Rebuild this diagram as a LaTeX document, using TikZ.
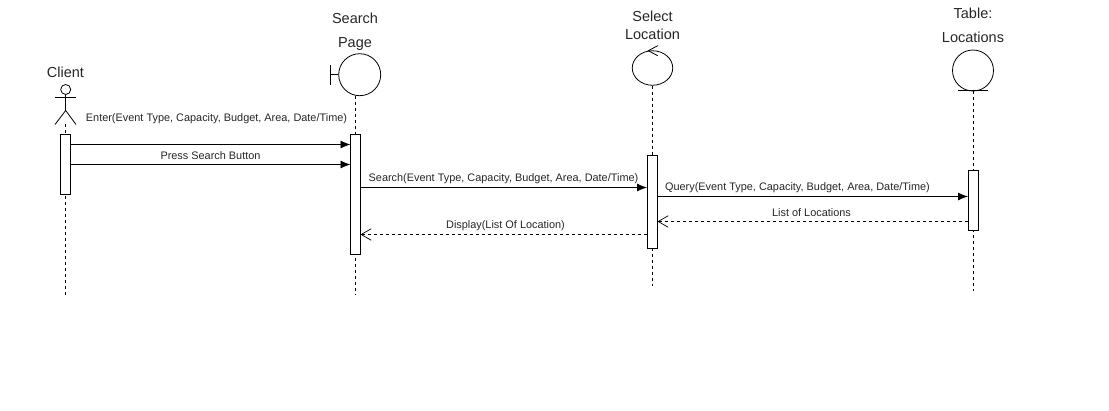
\documentclass[tikz,border=0pt]{standalone}
\usepackage{fontspec}
\setmainfont{Liberation Sans}
\usetikzlibrary{arrows.meta,shapes.geometric}
\tikzset{
  lifeline/.style={dash pattern=on 3pt off 3pt, line width=0.8pt},
  actbox/.style={draw, fill=white, minimum width=10pt, inner sep=0pt, line width=0.8pt},
  umlcircle/.style={circle, draw, inner sep=0pt, line width=0.8pt},
  callmsg/.style={-{Latex[length=10pt,width=8pt]}, line width=0.8pt},
  backmsg/.style={-{Straight Barb[length=10pt,width=11pt,angle'=60]}, dash pattern=on 3pt off 3pt, line width=0.7pt},
  msglabel/.style={font=\fontsize{10.9}{12}\selectfont, inner sep=0pt, text=black!85},
  headlabel/.style={font=\fontsize{14.5}{24}\selectfont, inner sep=0pt, align=center, text=black!85},
}
\begin{document}
\begin{tikzpicture}[x=1pt, y=-1pt, line width=0.8pt]
\useasboundingbox (0,0) rectangle (1109,410);
% headers
\node[headlabel] (tclient) at (65.5,72){Client};
\node[headlabel] (tsearch) at (355,32){Search\\Page};
\node[headlabel, font=\fontsize{14.5}{18}\selectfont] (tselect) at (652.5,25){Select\\Location};
\node[headlabel] (ttable) at (973,25){Table:\\Locations};
% actor
\node[umlcircle, minimum size=10pt] (head) at (65.7,89.5){};
\coordinate (armL) at (55,97.5);
\coordinate (armR) at (76,97.5);
\coordinate (hip) at (65.7,110.5);
\coordinate (legL) at (55,124.5);
\coordinate (legR) at (76,124.5);
\draw[](head) -- (hip);
\draw[](armL) -- (armR);
\draw[](hip) -- (legL);
\draw[](hip) -- (legR);
% boundary
\node[umlcircle, minimum size=42pt] (search) at (359.7,74.7){};
\coordinate (barT) at (330.3,64.5);
\coordinate (barB) at (330.3,84.5);
\coordinate (barM) at (330.3,74.5);
\draw[](barT) -- (barB);
\draw[](barM) -- (search);
% control
\node[ellipse, draw, inner sep=0pt, minimum width=40.5pt, minimum height=34.5pt] (select) at (652.5,68){};
\coordinate (chevT) at (657.7,45.7);
\coordinate (chevM) at (648.3,50.7);
\coordinate (chevB) at (657.7,55.7);
\draw[](chevT) -- (chevM) -- (chevB);
% entity
\node[umlcircle, minimum size=41pt] (table) at (973,70.5){};
\coordinate (baseL) at (958,90.5);
\coordinate (baseR) at (988,90.5);
\draw[](baseL) -- (baseR);
% lifelines
\coordinate (endclient) at (65.5,295);
\coordinate (endsearch) at (355,295);
\coordinate (endselect) at (652.5,286);
\coordinate (endtable) at (973,291);
\coordinate (topclient) at (65.5,124);
\coordinate (topsearch) at (355,96);
\coordinate (topselect) at (652.5,85.5);
\coordinate (toptable) at (973,91);
\draw[lifeline](topclient) -- (endclient);
\draw[lifeline](topsearch) -- (endsearch);
\draw[lifeline](topselect) -- (endselect);
\draw[lifeline](toptable) -- (endtable);
% activations
\node[actbox, minimum height=59.5pt] (aclient) at (65,164.25){};
\node[actbox, minimum height=119.5pt] (asearch) at (355.5,194.25){};
\node[actbox, minimum height=93pt] (aselect) at (652,201.5){};
\node[actbox, minimum height=60pt] (atable) at (973,200.25){};
% messages
\coordinate (m1a) at (70,144.5);
\coordinate (m1b) at (350.5,144.5);
\coordinate (m2a) at (70,164.5);
\coordinate (m2b) at (350.5,164.5);
\coordinate (m3a) at (360.5,187.5);
\coordinate (m3b) at (647,187.5);
\coordinate (m4a) at (657,196.5);
\coordinate (m4b) at (968,196.5);
\coordinate (m5a) at (968,221.5);
\coordinate (m5b) at (657.5,221.5);
\coordinate (m6a) at (647,234.5);
\coordinate (m6b) at (360.5,234.5);
\draw[callmsg](m1a) -- (m1b);
\draw[callmsg](m2a) -- (m2b);
\draw[callmsg](m3a) -- (m3b);
\draw[callmsg](m4a) -- (m4b);
\draw[backmsg](m5a) -- (m5b);
\draw[backmsg](m6a) -- (m6b);
% labels
\node[msglabel] (l1) at (216.5,118.5){Enter(Event Type, Capacity, Budget, Area, Date/Time)};
\node[msglabel] (l2) at (210.5,155.5){Press Search Button};
\node[msglabel] (l3) at (503.5,178.5){Search(Event Type, Capacity, Budget, Area, Date/Time)};
\node[msglabel] (l4) at (797.5,187.8){Query(Event Type, Capacity, Budget, Area, Date/Time)};
\node[msglabel] (l5) at (811.5,212.6){List of Locations};
\node[msglabel] (l6) at (505.5,226){Display(List Of Location)};
\end{tikzpicture}
\end{document}
